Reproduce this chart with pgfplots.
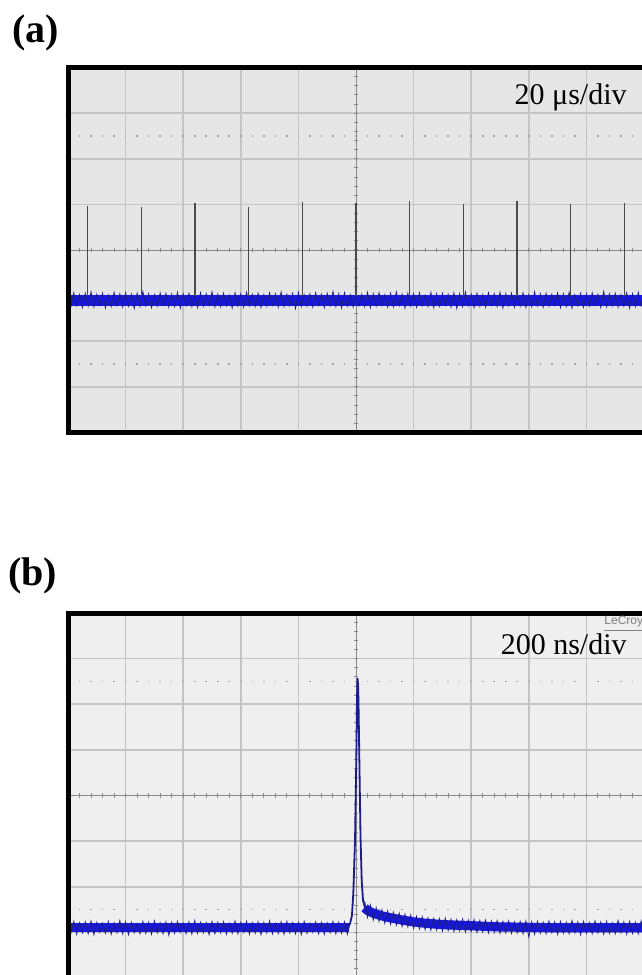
\documentclass[border=0pt]{standalone}
\usepackage{fontspec}
\setmainfont{Liberation Serif}
\newfontfamily\lsans{Liberation Sans}
\usepackage{pgfplots}
\pgfplotsset{compat=1.18}
\definecolor{bgA}{HTML}{E6E6E6}
\definecolor{bgB}{HTML}{EFEFEF}
\definecolor{gridc}{HTML}{C4C4C4}
\definecolor{ctrc}{HTML}{8A8A8A}
\definecolor{dotc}{HTML}{A4A4A4}
\definecolor{trace}{RGB}{24,24,222}
\definecolor{traceedge}{RGB}{28,28,140}
\definecolor{spikec}{HTML}{4A4A4A}
\pgfplotsset{osc/.style={
  scale only axis, width=288pt, height=182.5pt,
  xmin=0, xmax=10, ymin=-4, ymax=4,
  xtick={1,2,3,4,6,7,8,9}, ytick={-3,-2,-1,1,2,3},
  xticklabels={}, yticklabels={}, tick label style={opacity=0},
  major tick length=0pt,
  tick style={draw=none},
  grid=major, grid style={draw=gridc, line width=0.8pt},
  axis line style={draw=none},
  anchor=south west,
}}
\begin{document}
\begin{tikzpicture}[x=0.5pt,y=0.5pt]
\useasboundingbox (0,0) rectangle (642,975);
\clip (0,0) rectangle (642,975);
\node[anchor=base west, inner sep=0pt, font=\fontsize{20pt}{24pt}\selectfont\bfseries] at (12,932) {(a)};
\node[anchor=base west, inner sep=0pt, font=\fontsize{20pt}{24pt}\selectfont\bfseries] at (8,389) {(b)};
% ---------------- panel (a)
\begin{axis}[osc, name=A, at={(34pt,271.25pt)}, axis background/.style={fill=bgA}]
\draw[dotc, line width=0.8pt, dash pattern=on 0.8pt off 4.96pt, dash phase=0.4pt] (axis cs:0,2.5) -- (axis cs:10,2.5);
\draw[dotc, line width=0.8pt, dash pattern=on 0.8pt off 4.96pt, dash phase=0.4pt] (axis cs:0,-2.5) -- (axis cs:10,-2.5);
\draw[ctrc, line width=0.45pt] (axis cs:0,0) -- (axis cs:10,0);
\draw[ctrc, line width=0.45pt] (axis cs:5,-4) -- (axis cs:5,4);
\pgfplotsinvokeforeach{0.2,0.4,...,9.8}{\draw[ctrc, line width=0.5pt] (axis cs:#1,-0.045) -- (axis cs:#1,0.045);}
\pgfplotsinvokeforeach{-3.8,-3.6,...,3.8}{\draw[ctrc, line width=0.5pt] (axis cs:4.96,#1) -- (axis cs:5.04,#1);}
\addplot[trace, line width=5.5pt] coordinates {(0,-1.1) (10,-1.1)};
\addplot[traceedge, line width=0.4pt] table[header=false, x expr=\coordindex*0.05, y index=0, row sep=\\] {
-0.96\\-1.24\\-0.94\\-1.22\\-0.98\\-1.26\\-0.95\\-1.23\\-0.92\\-1.25\\
-0.97\\-1.21\\-0.95\\-1.27\\-0.99\\-1.24\\-0.93\\-1.22\\-0.96\\-1.25\\
-0.94\\-1.23\\-0.97\\-1.28\\-0.95\\-1.24\\-0.91\\-1.22\\-0.96\\-1.26\\
-0.98\\-1.23\\-0.94\\-1.21\\-0.95\\-1.25\\-0.97\\-1.24\\-0.93\\-1.27\\
-0.96\\-1.22\\-0.95\\-1.24\\-0.98\\-1.26\\-0.94\\-1.23\\-0.96\\-1.21\\
-0.92\\-1.25\\-0.97\\-1.24\\-0.95\\-1.22\\-0.99\\-1.27\\-0.94\\-1.23\\
-0.96\\-1.25\\-0.93\\-1.22\\-0.97\\-1.24\\-0.95\\-1.26\\-0.98\\-1.23\\
-0.94\\-1.21\\-0.96\\-1.25\\-0.92\\-1.24\\-0.97\\-1.22\\-0.95\\-1.28\\
-0.93\\-1.24\\-0.98\\-1.23\\-0.96\\-1.25\\-0.94\\-1.21\\-0.97\\-1.26\\
-0.95\\-1.22\\-0.91\\-1.24\\-0.96\\-1.27\\-0.94\\-1.23\\-0.98\\-1.25\\
-0.95\\-1.22\\-0.97\\-1.24\\-0.93\\-1.26\\-0.96\\-1.23\\-0.94\\-1.21\\
-0.98\\-1.25\\-0.95\\-1.24\\-0.92\\-1.22\\-0.97\\-1.27\\-0.95\\-1.23\\
-0.96\\-1.25\\-0.94\\-1.22\\-0.99\\-1.24\\-0.93\\-1.26\\-0.96\\-1.23\\
-0.95\\-1.21\\-0.97\\-1.25\\-0.94\\-1.28\\-0.96\\-1.24\\-0.92\\-1.22\\
-0.97\\-1.26\\-0.95\\-1.23\\-0.98\\-1.25\\-0.94\\-1.21\\-0.96\\-1.24\\
-0.93\\-1.27\\-0.96\\-1.22\\-0.95\\-1.25\\-0.97\\-1.23\\-0.94\\-1.26\\
-0.98\\-1.24\\-0.92\\-1.22\\-0.96\\-1.25\\-0.95\\-1.23\\-0.97\\-1.21\\
-0.94\\-1.26\\-0.96\\-1.24\\-0.93\\-1.27\\-0.98\\-1.22\\-0.95\\-1.25\\
-0.96\\-1.23\\-0.94\\-1.21\\-0.97\\-1.26\\-0.91\\-1.24\\-0.96\\-1.22\\
-0.95\\-1.25\\-0.98\\-1.23\\-0.94\\-1.27\\-0.96\\-1.24\\-0.93\\-1.22\\
-0.96\\
};
\addplot[spikec, line width=0.6pt, unbounded coords=jump] table[row sep=\\] {
x y\\
0.340 -1.0\\ 0.340 0.965\\ 0.340 nan\\
1.272 -1.0\\ 1.272 0.950\\ 1.272 nan\\
2.204 -1.0\\ 2.204 1.020\\ 2.204 nan\\
3.136 -1.0\\ 3.136 0.940\\ 3.136 nan\\
4.068 -1.0\\ 4.068 1.060\\ 4.068 nan\\
5.000 -1.0\\ 5.000 1.040\\ 5.000 nan\\
5.932 -1.0\\ 5.932 1.075\\ 5.932 nan\\
6.864 -1.0\\ 6.864 1.010\\ 6.864 nan\\
7.796 -1.0\\ 7.796 1.080\\ 7.796 nan\\
8.728 -1.0\\ 8.728 1.010\\ 8.728 nan\\
9.660 -1.0\\ 9.660 1.020\\
};
\end{axis}
\draw[line width=2.5pt] ([xshift=10pt]A.south east) -- (A.south west) -- (A.north west) -- ([xshift=10pt]A.north east);
\node[anchor=base east, inner sep=0pt, font=\fontsize{15pt}{18pt}\selectfont] at (627,870) {20 μs/div};
% ---------------- panel (b)
\begin{axis}[osc, name=B, at={(34pt,-1.5pt)}, axis background/.style={fill=bgB}]
\draw[dotc, line width=0.8pt, dash pattern=on 0.8pt off 4.96pt, dash phase=0.4pt] (axis cs:0,2.5) -- (axis cs:10,2.5);
\draw[dotc, line width=0.8pt, dash pattern=on 0.8pt off 4.96pt, dash phase=0.4pt] (axis cs:0,-2.5) -- (axis cs:10,-2.5);
\draw[ctrc, line width=0.45pt] (axis cs:0,0) -- (axis cs:10,0);
\draw[ctrc, line width=0.45pt] (axis cs:5,-4) -- (axis cs:5,4);
\pgfplotsinvokeforeach{0.2,0.4,...,9.8}{\draw[ctrc, line width=0.5pt] (axis cs:#1,-0.045) -- (axis cs:#1,0.045);}
\pgfplotsinvokeforeach{-3.8,-3.6,...,3.8}{\draw[ctrc, line width=0.5pt] (axis cs:4.96,#1) -- (axis cs:5.04,#1);}
\addplot[trace, line width=4.6pt] coordinates {(0,-2.9) (4.88,-2.9)};
\addplot[trace, line width=4.6pt] coordinates {(5.15,-2.46) (5.2,-2.52) (5.3,-2.58) (5.4,-2.62) (5.5,-2.655) (5.6,-2.68) (5.8,-2.73) (6.0,-2.77) (6.2,-2.80) (6.4,-2.82) (6.6,-2.835) (6.8,-2.845) (7.0,-2.855) (7.5,-2.88) (8.0,-2.89) (8.5,-2.9) (10,-2.9)};
\addplot[traceedge, line width=0.4pt] table[header=false, x expr=\coordindex*0.05, y index=0, row sep=\\] {
-2.78\\-3.02\\-2.76\\-3.04\\-2.79\\-3.01\\-2.77\\-3.03\\-2.75\\-3.05\\
-2.78\\-3.00\\-2.80\\-3.02\\-2.76\\-3.04\\-2.79\\-3.01\\-2.74\\-3.03\\
-2.77\\-3.05\\-2.78\\-3.01\\-2.81\\-3.03\\-2.76\\-3.02\\-2.78\\-3.04\\
-2.75\\-3.01\\-2.79\\-3.03\\-2.77\\-3.06\\-2.78\\-3.02\\-2.76\\-3.00\\
-2.80\\-3.03\\-2.77\\-3.04\\-2.74\\-3.02\\-2.78\\-3.01\\-2.79\\-3.05\\
-2.76\\-3.03\\-2.78\\-3.01\\-2.77\\-3.04\\-2.80\\-3.02\\-2.75\\-3.03\\
-2.78\\-3.00\\-2.76\\-3.04\\-2.79\\-3.02\\-2.77\\-3.05\\-2.78\\-3.01\\
-2.75\\-3.03\\-2.80\\-3.02\\-2.77\\-3.04\\-2.76\\-3.01\\-2.79\\-3.03\\
-2.78\\-3.05\\-2.76\\-3.02\\-2.80\\-3.00\\-2.77\\-3.03\\-2.78\\-3.04\\
-2.79\\-3.01\\-2.76\\-3.03\\-2.78\\-3.02\\-2.77\\-3.04\\-2.79\\
};
\addplot[traceedge, line width=0.4pt] table[header=false, x expr=5.15+\coordindex*0.05, y index=0, row sep=\\] {
-2.31\\-2.67\\-2.40\\-2.73\\-2.46\\-2.76\\-2.50\\-2.80\\-2.53\\-2.82\\
-2.56\\-2.84\\-2.58\\-2.87\\-2.60\\-2.88\\-2.62\\-2.91\\-2.65\\-2.92\\
-2.66\\-2.94\\-2.68\\-2.95\\-2.69\\-2.95\\-2.70\\-2.97\\-2.69\\-2.96\\
-2.71\\-2.98\\-2.72\\-2.97\\-2.71\\-2.99\\-2.73\\-2.98\\-2.72\\-3.00\\
-2.74\\-2.99\\-2.73\\-3.01\\-2.75\\-3.00\\-2.74\\-3.02\\-2.76\\-3.01\\
-2.75\\-3.02\\-2.77\\-3.01\\-2.76\\-3.03\\-2.75\\-3.10\\-2.77\\-3.04\\
-2.76\\-3.02\\-2.78\\-3.03\\-2.75\\-3.01\\-2.77\\-3.04\\-2.76\\-3.02\\
-2.78\\-3.03\\-2.74\\-3.01\\-2.77\\-3.05\\-2.76\\-3.02\\-2.78\\-3.03\\
-2.75\\-3.01\\-2.77\\-3.04\\-2.76\\-3.02\\-2.79\\-3.03\\-2.74\\-3.01\\
-2.77\\-3.04\\-2.76\\-3.02\\-2.78\\-3.03\\-2.75\\-3.02\\
};
\addplot[traceedge, line width=0.9pt] coordinates {(4.80,-2.90) (4.896,-2.81) (4.93,-2.63) (4.953,-2.15) (4.983,-0.99) (5.005,0.77) (5.017,2.08) (5.026,2.57) (5.035,2.45) (5.043,2.08) (5.061,0.55) (5.078,-0.88) (5.099,-1.86) (5.122,-2.30) (5.156,-2.46) (5.19,-2.52)};
\end{axis}
\draw[line width=2.5pt] ([xshift=10pt]B.south east) -- (B.south west) -- (B.north west) -- ([xshift=10pt]B.north east);
\node[anchor=base east, inner sep=0pt, font=\fontsize{15pt}{18pt}\selectfont] at (627,320) {200 ns/div};
\node[anchor=base west, inner sep=0pt, font=\lsans\fontsize{6pt}{7pt}\selectfont, text=gray] at (604,350) {\underline{LeCroy}};
\end{tikzpicture}
\end{document}
